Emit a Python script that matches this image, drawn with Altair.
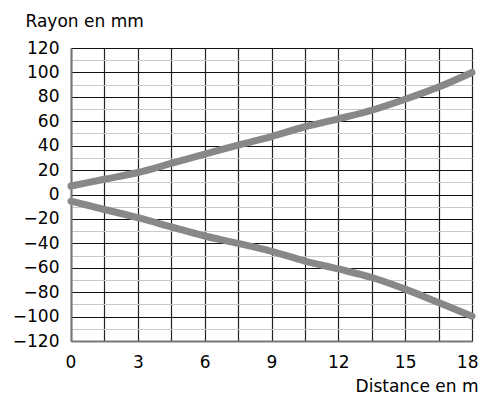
import altair as alt
import pandas as pd

distance = [0, 1.5, 3, 4.5, 6, 7.5, 9, 10.5, 12, 13.5, 15, 16.5, 18]
upper = [7, 12.5, 18, 25.5, 33, 40.5, 47.5, 55.5, 62, 69, 78, 88, 100]
lower = [-5.5, -12.3, -19, -26.5, -34, -40, -46.5, -54.5, -61, -68, -77.5, -88.5, -99.7]

x_ticks = [0, 1.5, 3, 4.5, 6, 7.5, 9, 10.5, 12, 13.5, 15, 16.5, 18]
y_ticks = list(range(-120, 121, 10))

rows = []
for d, u in zip(distance, upper):
    rows.append({"d": d, "r": u, "s": "haut"})
for d, l in zip(distance, lower):
    rows.append({"d": d, "r": l, "s": "bas"})
df = pd.DataFrame(rows)

FONT = "DejaVu Sans"

chart = alt.Chart(df).mark_line(
    strokeWidth=7, strokeCap="round", strokeJoin="round", interpolate="monotone", clip=False
).encode(
    x=alt.X("d:Q", scale=alt.Scale(domain=[0, 18], nice=False),
            axis=alt.Axis(values=x_ticks, labelExpr="datum.value % 3 == 0 ? datum.label : ''",
                          title="Distance en m", titleAlign="right", titleAnchor="end",
                          titleX=407, titleY=50, titleBaseline="alphabetic",
                          grid=True, gridColor="#222", gridWidth=1.2,
                          ticks=False, labelFlush=True, labelFlushOffset=6, labelPadding=13,
                          labelFontSize=17, labelFont=FONT,
                          labelColor="#000", titleFont=FONT, titleFontSize=17,
                          titleFontWeight="normal", titleColor="#000",
                          domainColor="#777", domainWidth=2)),
    y=alt.Y("r:Q", scale=alt.Scale(domain=[-120, 120], nice=False),
            axis=alt.Axis(values=y_ticks, labelExpr="datum.value % 20 == 0 ? datum.label : ''",
                          title="Rayon en mm", titleAngle=0, titleAlign="left",
                          titleX=-46, titleY=-22, titleBaseline="alphabetic",
                          grid=True,
                          gridColor={"condition": {"test": "datum.value % 20 == 0", "value": "#111"},
                                     "value": "#c8c8c8"},
                          gridWidth=1.2,
                          ticks=False, labelFlush=False, labelPadding=12,
                          labelFontSize=17, labelFont=FONT,
                          labelColor="#000", titleFont=FONT, titleFontSize=17,
                          titleFontWeight="normal", titleColor="#000",
                          domainColor="#777", domainWidth=2)),
    color=alt.Color("s:N", scale=alt.Scale(range=["#888888", "#888888"]), legend=None),
    detail="s:N",
).properties(
    width=401, height=293,
    autosize=alt.AutoSizeParams(type="none"),
    padding={"left": 63, "top": 40, "right": 7, "bottom": 53},
).configure_view(stroke=None)

chart.save("out.html", embed_options={"renderer": "svg", "actions": False})
